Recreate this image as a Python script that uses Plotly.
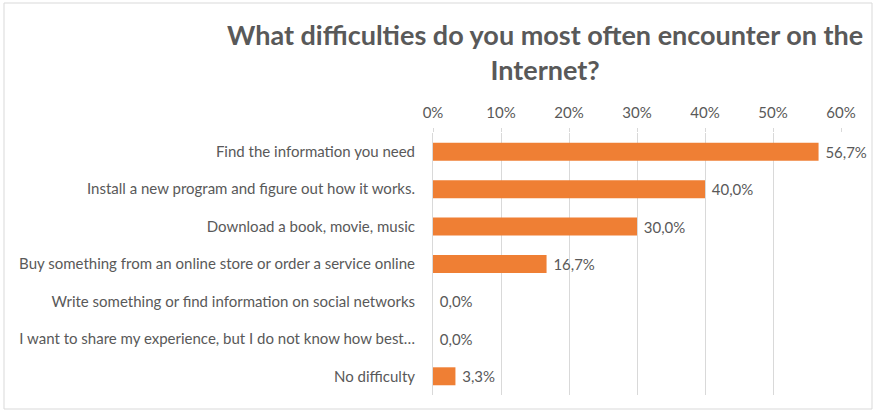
import plotly.graph_objects as go

categories = [
    "Find the information you need",
    "Install a new program and figure out how it works.",
    "Download a book, movie, music",
    "Buy something from an online store or order a service online",
    "Write something or find information on social networks",
    "I want to share my experience, but I do not know how best\u2026",
    "No difficulty",
]
values = [56.7, 40.0, 30.0, 16.7, 0.0, 0.0, 3.3]
tick_values = [0, 10, 20, 30, 40, 50, 60]
tick_labels = ["0%", "10%", "20%", "30%", "40%", "50%", "60%"]
title_text = "What difficulties do you most often encounter on the<br>Internet?"

# value labels in decimal-comma format, padded a little away from the bar end
labels = [" " + f"{v:.1f}".replace(".", ",") + "%" for v in values]

FONT = "Lato"
GREY = "#595959"

fig = go.Figure(
    go.Bar(
        x=values,
        y=categories,
        orientation="h",
        marker=dict(color="#EF7F34", line=dict(width=0)),
        width=0.48,
        text=labels,
        textposition="outside",
        textfont=dict(family=FONT, size=15, color=GREY),
        cliponaxis=False,
    )
)

fig.update_layout(
    width=874,
    height=413,
    margin=dict(l=433, r=33, t=133, b=18),
    paper_bgcolor="white",
    plot_bgcolor="white",
    showlegend=False,
    font=dict(family=FONT, size=15, color=GREY),
    xaxis=dict(
        side="top",
        range=[0, 60],
        tickvals=tick_values,
        ticktext=tick_labels,
        showgrid=True,
        gridcolor="#D9D9D9",
        gridwidth=1,
        zeroline=False,
        ticks="outside",
        ticklen=4,
        tickcolor="#D9D9D9",
        showline=False,
        ticklabelstandoff=4,
        tickfont=dict(family=FONT, size=15, color=GREY),
    ),
    yaxis=dict(
        autorange="reversed",
        showgrid=False,
        showline=True,
        linecolor="#D9D9D9",
        ticks="",
        ticklabelstandoff=14,
        tickfont=dict(family=FONT, size=15, color=GREY),
    ),
    annotations=[
        dict(
            text=title_text,
            xref="paper",
            yref="paper",
            x=112 / 408,
            y=1.311,
            xanchor="center",
            yanchor="middle",
            showarrow=False,
            align="center",
            font=dict(family=FONT, size=27, color=GREY, weight="bold"),
        )
    ],
    shapes=[
        dict(
            type="rect",
            xref="paper",
            yref="paper",
            x0=-429 / 408,
            x1=(872 - 433) / 408,
            y0=-14 / 262,
            y1=1 + 130 / 262,
            line=dict(color="#D9D9D9", width=1),
            fillcolor="rgba(0,0,0,0)",
            layer="below",
        )
    ],
)

fig.write_html("out.html")
